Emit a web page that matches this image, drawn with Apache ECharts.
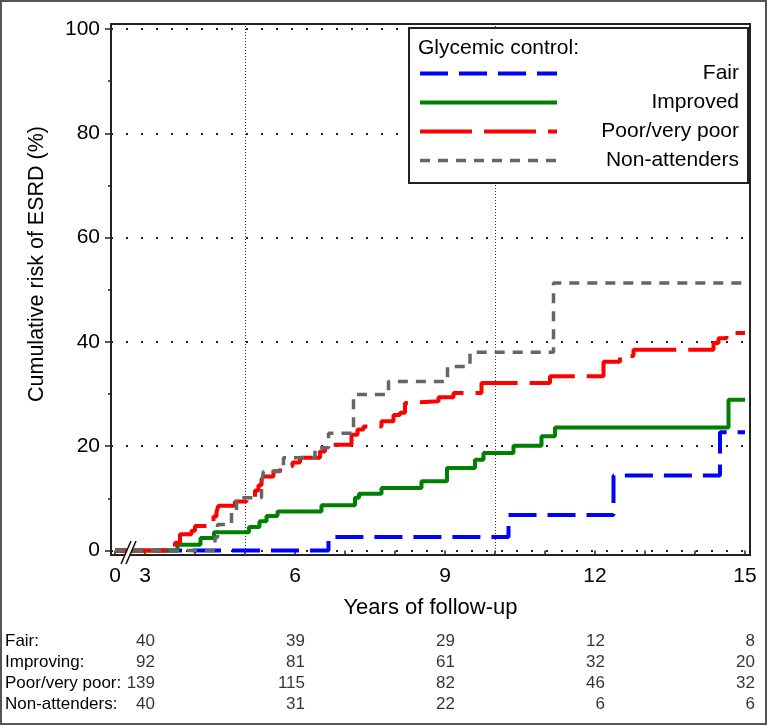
<!DOCTYPE html>
<html><head><meta charset="utf-8">
<script src="https://cdn.jsdelivr.net/npm/echarts@6/dist/echarts.min.js"></script>
<style>html,body{margin:0;padding:0;background:#fff}#c{width:768px;height:726px}</style>
</head><body><div id="c"></div>
<script>
// ---------- data (years of follow-up, cumulative risk %) ----------
const seriesNames = ['Fair', 'Improved', 'Poor/very poor', 'Non-attenders'];
const fairT = [0, 6.67, 10.27, 12.37, 14.5, 15];
const fairV = [0, 2.6, 6.8, 14.4, 22.7, 22.7];
const improvedT = [0, 3.65, 4.11, 4.38, 5.08, 5.29, 5.43, 5.65, 6.53, 7.2, 7.28, 7.73, 8.53, 9.04, 9.6, 9.77, 10.37, 10.93, 11.2, 14.67, 15];
const improvedV = [0, 1.1, 2.4, 3.5, 4.5, 5.6, 6.6, 7.5, 8.7, 10.1, 10.9, 12.0, 13.3, 15.8, 17.4, 18.7, 20.1, 21.9, 23.6, 28.9, 28.9];
const poorT = [0, 3.6, 3.7, 3.93, 4.0, 4.37, 4.43, 4.47, 4.8, 5.03, 5.2, 5.27, 5.33, 5.37, 5.57, 5.7, 5.8, 5.95, 6.1, 6.5, 6.6, 6.7, 7.13, 7.25, 7.37, 7.73, 7.97, 8.1, 8.2, 8.25, 8.87, 9.17, 9.73, 11.1, 12.17, 12.5, 12.77, 14.37, 14.47, 14.63, 15];
const poorV = [0, 1.5, 3.1, 3.8, 4.7, 6.5, 7.4, 8.6, 9.4, 10.1, 11.5, 12.5, 13.6, 14.2, 15.2, 15.9, 16.2, 16.9, 17.8, 19.0, 19.7, 20.3, 22.2, 23.2, 23.8, 24.8, 26.0, 26.4, 28.3, 28.6, 29.4, 30.2, 32.1, 33.4, 36.2, 37.3, 38.5, 39.8, 40.7, 41.7, 41.7];
const nonT = [0, 4.4, 4.45, 4.73, 4.83, 5.33, 5.37, 5.77, 6.4, 6.67, 7.17, 7.87, 9.05, 9.5, 11.17, 15];
const nonV = [0, 2.5, 5.0, 7.5, 10.1, 12.7, 15.2, 17.8, 19.7, 22.5, 29.9, 32.4, 35.3, 38.0, 51.3, 51.3];

const xTickLabels = [0, 3, 6, 9, 12, 15];
const xTicks = [0, 3, 4, 5, 6, 7, 8, 9, 10, 11, 12, 13, 14, 15];
const xRefLines = [5, 10];
const yTickLabels = [0, 20, 40, 60, 80, 100];
const yMinorTicks = [10, 30, 50, 70, 90];

const riskRows = ['Fair:', 'Improving:', 'Poor/very poor:', 'Non-attenders:'];
const riskCols = [3, 6, 9, 12, 15];
const riskFair = [40, 39, 29, 12, 8];
const riskImproving = [92, 81, 61, 32, 20];
const riskPoor = [139, 115, 82, 46, 32];
const riskNon = [40, 31, 22, 6, 6];

// ---------- broken axis: 0..3 years compressed ----------
function disp(t) { return t >= 3 ? t : 2.4 + t * 0.2; }
function undisp(v) { return v >= 2.99 ? v : (v - 2.4) / 0.2; }
const XMIN = 2.32, XMAX = 15.1;
const FONT = 'Liberation Sans, Arial, sans-serif';

function pts(T, V) { return T.map((t, i) => [disp(t), V[i]]); }

const colors = ['#0000ff', '#008000', '#ff0000', '#666666'];
const dashes = [[28, 11], 'solid', [52, 12], [10, 8]];
const widths = [4, 4, 4, 3.5];
const allData = [pts(fairT, fairV), pts(improvedT, improvedV), pts(poorT, poorV), pts(nonT, nonV)];

const curveSeries = seriesNames.map((n, i) => ({
  name: n, type: 'line', step: 'end', xAxisIndex: 0, yAxisIndex: 0,
  data: allData[i], symbol: 'none', showSymbol: false, z: 3,
  color: colors[i],
  lineStyle: { color: colors[i], width: widths[i], type: dashes[i], cap: 'butt' },
  animation: false
}));

const riskAll = [riskFair, riskImproving, riskPoor, riskNon];
const riskData = [];
riskAll.forEach((arr, r) => arr.forEach((v, c) => riskData.push([riskCols[c], riskRows[r], v])));

const gridLineSeries = {
  type: 'line', xAxisIndex: 0, yAxisIndex: 0, data: [], z: 1, silent: true, animation: false,
  markLine: {
    z: 1, symbol: ['none', 'none'], silent: true, animation: false, label: { show: false },
    data: yTickLabels.map(v => ({ yAxis: v, lineStyle: { color: '#222', width: 2, type: [2, 13] } }))
      .concat(xRefLines.map(v => ({ xAxis: disp(v), lineStyle: { color: '#333', width: 1, type: [1, 2] } })))
  }
};

const chart = echarts.init(document.getElementById('c'), null, { renderer: 'canvas' });
chart.setOption({
  animation: false,
  textStyle: { fontFamily: FONT },
  title: {
    text: 'Glycemic control:', left: 418, top: 38, padding: 0, z: 21,
    textStyle: { fontSize: 21, fontWeight: 'normal', color: '#000', fontFamily: FONT }
  },
  legend: {
    z: 20,
    orient: 'vertical', left: 409, top: 28, padding: [35, 9, 12, 9], itemGap: 8,
    itemWidth: 137, itemHeight: 14, backgroundColor: '#fff', borderColor: '#222', borderWidth: 2,
    itemStyle: { opacity: 0 },
    data: seriesNames.map((n, i) => ({
      name: n,
      itemStyle: { opacity: 0 },
      lineStyle: { color: colors[i], width: widths[i], type: dashes[i], cap: 'butt' }
    })),
    formatter: name => '{a|' + name + '}',
    textStyle: { rich: { a: { width: 177, align: 'right', fontSize: 21, color: '#000', fontFamily: FONT } } }
  },
  grid: [
    { left: 111, top: 24, width: 639, height: 531, show: true, borderColor: '#222', borderWidth: 2, backgroundColor: 'transparent' },
    { left: 111, top: 631, width: 639, height: 84, show: false }
  ],
  xAxis: [
    {
      type: 'value', gridIndex: 0, min: XMIN, max: XMAX,
      axisLine: { show: false }, splitLine: { show: false },
      axisTick: { show: true, customValues: xTicks.map(disp), length: 4, lineStyle: { color: '#222', width: 1.5 } },
      axisLabel: {
        customValues: xTickLabels.map(disp), margin: 11, fontSize: 21, color: '#000', fontFamily: FONT,
        formatter: v => String(Math.round(undisp(v)))
      },
      name: 'Years of follow-up', nameLocation: 'middle', nameGap: 42,
      nameTextStyle: { fontSize: 22, color: '#000', fontFamily: FONT }
    },
    { type: 'value', gridIndex: 1, min: XMIN, max: XMAX, show: false }
  ],
  yAxis: [
    {
      type: 'value', gridIndex: 0, min: -0.86, max: 100.96, position: 'left',
      axisLine: { show: false }, splitLine: { show: false },
      axisTick: { show: true, customValues: yTickLabels, length: 6, lineStyle: { color: '#222', width: 1.5 } },
      axisLabel: { customValues: yTickLabels, margin: 11, fontSize: 21, color: '#000', fontFamily: FONT }
    },
    {
      type: 'value', gridIndex: 0, min: -0.86, max: 100.96, position: 'left', offset: 0,
      axisLine: { show: false }, splitLine: { show: false },
      axisTick: { show: true, customValues: yMinorTicks, length: 3, lineStyle: { color: '#222', width: 1.5 } },
      axisLabel: { show: false }
    },
    {
      type: 'category', gridIndex: 1, data: riskRows, inverse: true,
      axisLine: { show: false }, axisTick: { show: false }, splitLine: { show: false },
      axisLabel: { interval: 0, align: 'left', margin: 106, fontSize: 17, color: '#000', fontFamily: FONT }
    }
  ],
  series: [gridLineSeries].concat(curveSeries).concat([{
    type: 'scatter', xAxisIndex: 1, yAxisIndex: 2, data: riskData, symbolSize: 0,
    silent: true, animation: false,
    label: {
      show: true, position: 'inside', align: 'right', offset: [10, 0],
      fontSize: 17, color: '#000', fontFamily: FONT,
      formatter: p => String(p.value[2])
    }
  }])
});

// decorations: axis break mark, y-axis title, outer border
const bp = chart.convertToPixel({ xAxisIndex: 0, yAxisIndex: 0 }, [2.64, 0]);
const bx = bp[0], by = 555;
chart.setOption({
  graphic: [
    { type: 'polygon', z: 100, shape: { points: [[bx - 6, by + 9], [bx - 1, by + 9], [bx + 9, by - 14], [bx + 4, by - 14]] }, style: { fill: '#fff' } },
    { type: 'line', z: 101, shape: { x1: bx - 6, y1: by + 9, x2: bx + 4, y2: by - 14 }, style: { stroke: '#111', lineWidth: 1.5 } },
    { type: 'line', z: 101, shape: { x1: bx - 1, y1: by + 9, x2: bx + 9, y2: by - 14 }, style: { stroke: '#111', lineWidth: 1.5 } },
    { type: 'text', z: 100, x: 37, y: 264, rotation: Math.PI / 2,
      style: { text: 'Cumulative risk of ESRD (%)', fontSize: 21.5, fontFamily: FONT, fill: '#000', align: 'center', verticalAlign: 'middle' } },
    { type: 'rect', z: 100, shape: { x: 1, y: 1, width: 765, height: 723 }, style: { fill: 'none', stroke: '#555', lineWidth: 2 } }
  ]
});
</script>
</body></html>
